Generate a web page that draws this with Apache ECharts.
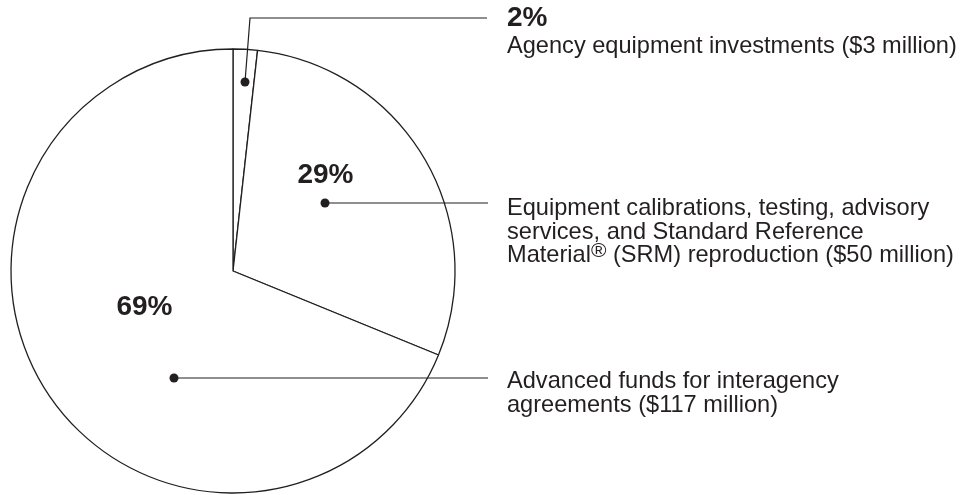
<!DOCTYPE html>
<html>
<head>
<meta charset="utf-8">
<script src="https://cdn.jsdelivr.net/npm/echarts@6/dist/echarts.min.js"></script>
<style>
  html, body { margin: 0; padding: 0; background: #fff; }
  #main { width: 977px; height: 495px; }
</style>
</head>
<body>
<div id="main"></div>
<script>
// 资金构成（单位：百万美元）
var categories = [
    'Agency equipment investments ($3 million)',
    'Equipment calibrations, testing, advisory\nservices, and Standard Reference\nMaterial{sup|®} (SRM) reproduction ($50 million)',
    'Advanced funds for interagency\nagreements ($117 million)'
];
var values = [3, 50, 117];

var ink = '#231f20';
var font = '"Liberation Sans", Arial, Helvetica, sans-serif';

var total = values.reduce(function (a, b) { return a + b; }, 0);
var percents = values.map(function (v) {
    return Math.round(v / total * 100) + '%';
});

var myChart = echarts.init(document.getElementById('main'));

// 标注位置：百分比文字、圆点、引线、说明文字
var notes = [
    { pct: [507, 18], pctAlign: 'left', dot: [245, 82], line: [[245, 82], [250, 18], [487, 18]], desc: [507, 35] },
    { pct: [325.5, 175], pctAlign: 'center', dot: [325, 203], line: [[325, 203], [488, 203]], desc: [507, 197] },
    { pct: [144.5, 307], pctAlign: 'center', dot: [174, 378], line: [[174, 378], [488, 378]], desc: [507, 370] }
];

var graphic = [];
notes.forEach(function (n, i) {
    graphic.push({
        type: 'polyline',
        shape: { points: n.line },
        style: { stroke: ink, lineWidth: 1.2, fill: null },
        z: 10
    });
    graphic.push({
        type: 'circle',
        shape: { cx: n.dot[0], cy: n.dot[1], r: 4.5 },
        style: { fill: ink },
        z: 11
    });
    graphic.push({
        type: 'text',
        x: n.pct[0], y: n.pct[1],
        style: {
            text: percents[i],
            fill: ink,
            font: 'bold 28px ' + font,
            textAlign: n.pctAlign,
            textVerticalAlign: 'middle'
        },
        z: 11
    });
    graphic.push({
        type: 'text',
        x: n.desc[0], y: n.desc[1],
        style: {
            text: categories[i],
            fill: ink,
            fontSize: 23.6,
            fontFamily: font,
            lineHeight: 23.5,
            textAlign: 'left',
            textVerticalAlign: 'top',
            rich: {
                sup: { fontSize: 21, fontFamily: font, fill: ink, verticalAlign: 'top', height: 14, lineHeight: 14 }
            }
        },
        z: 11
    });
});

var option = {
    backgroundColor: '#fff',
    animation: false,
    graphic: graphic,
    series: [
        {
            type: 'pie',
            center: [233, 271],
            radius: 222,
            startAngle: 90,
            clockwise: true,
            silent: true,
            label: { show: false },
            labelLine: { show: false },
            itemStyle: { color: '#fff', borderColor: ink, borderWidth: 1.3 },
            emphasis: { disabled: true },
            data: values.map(function (v, i) {
                return { name: 'item' + i, value: v };
            })
        }
    ]
};

myChart.setOption(option);
</script>
</body>
</html>
